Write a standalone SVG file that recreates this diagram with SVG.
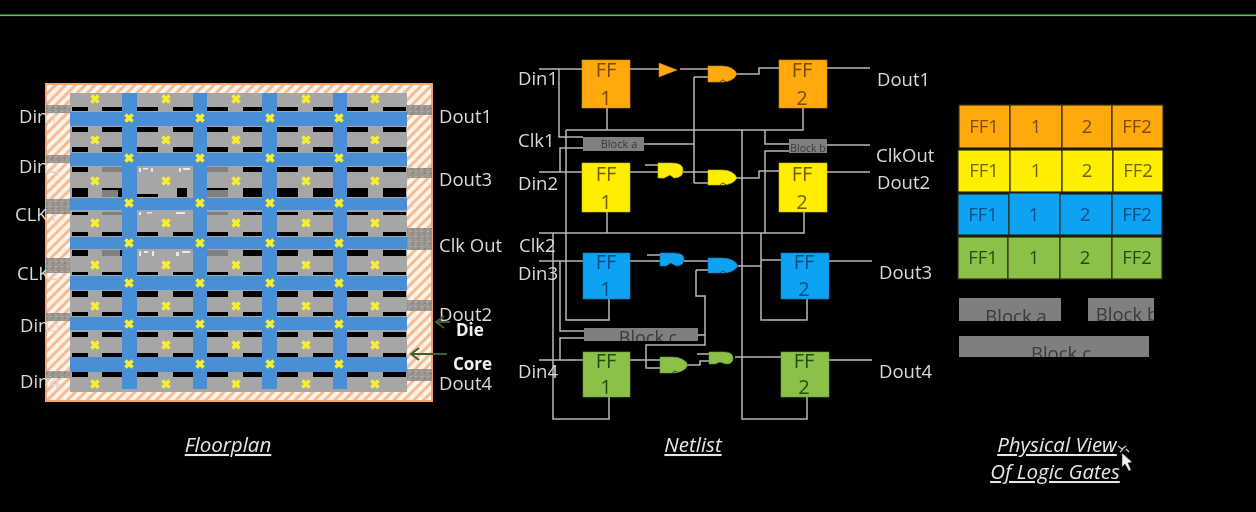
<svg xmlns="http://www.w3.org/2000/svg" xmlns:xlink="http://www.w3.org/1999/xlink" width="1256" height="512" viewBox="0 0 1256 512">
<style>
text{font-family:"Open Sans","Liberation Sans",sans-serif;}
.lb{font-size:18.5px;fill:#d9d9d9;}
.bd{font-size:17px;fill:#f2f2f2;font-weight:700;}
.cap{font-size:20.5px;fill:#e6e6e6;font-style:italic;text-decoration:underline;text-anchor:middle;}
.ff{font-size:20px;text-anchor:middle;}
.cl{font-size:18.5px;text-anchor:middle;}
.w{fill:none;stroke:#b8b8b8;stroke-width:1.5;}
.pad{fill:url(#speck);opacity:.88;}
.bar{fill:#000;}
.blue{fill:#4a8fd6;}
.x{stroke:#f7ee30;stroke-width:3.6;fill:none;}
.blk{fill:#7f7f7f;}
.bt{fill:#3a3a3a;text-anchor:middle;}
.o{fill:#ffa90a;stroke:#c98a10;stroke-width:.6;}.ot{fill:#7a4d00;}
.y{fill:#ffee00;stroke:#cbbd00;stroke-width:.6;}.yt{fill:#6f6200;}
.c{fill:#0aa2f2;stroke:#0a7fc0;stroke-width:.6;}.ct{fill:#044f86;}
.g{fill:#8cc04a;stroke:#6f9a3a;stroke-width:.6;}.gt{fill:#234d10;}
.cell{stroke:#2e2e1a;stroke-width:1.2;}
.gm{stroke:#333;stroke-width:.8;fill:none;}
.frag{fill:#e8e8e8;}.dg{fill:#808080;}
</style>
<defs>
<pattern id="hatch" width="7" height="7" patternUnits="userSpaceOnUse" patternTransform="rotate(45)">
<rect width="7" height="7" fill="#fff3ea"/><rect width="3" height="7" fill="#f6bd95"/>
</pattern>
<pattern id="speck" width="6" height="5" patternUnits="userSpaceOnUse">
<rect width="6" height="5" fill="#8e8b87"/><rect x="1" y="1" width="2" height="1" fill="#b3b0ab"/><rect x="4" y="3" width="1.5" height="1" fill="#6d6a67"/><rect x="0" y="3.5" width="1.5" height="1" fill="#a5a29d"/>
</pattern>
<filter id="soft" x="0" y="0" width="100%" height="100%"><feGaussianBlur stdDeviation="0.45"/></filter>
<marker id="ah" markerWidth="11" markerHeight="14" refX="9" refY="7" orient="auto" markerUnits="userSpaceOnUse"><path d="M1,1 L9,7 L1,13" fill="none" stroke="#3d5f33" stroke-width="2"/></marker>
<g id="barrow">
<rect class="bar" x="72" width="16" height="1"/><rect class="bar" x="102" width="20" height="1"/>
<rect class="bar" x="137" width="21" height="1"/><rect class="bar" x="173" width="20" height="1"/>
<rect class="bar" x="207" width="21" height="1"/><rect class="bar" x="243" width="19" height="1"/>
<rect class="bar" x="277" width="21" height="1"/><rect class="bar" x="313" width="20" height="1"/>
<rect class="bar" x="347" width="21" height="1"/><rect class="bar" x="383" width="23" height="1"/>
</g>
<path id="xm" class="x" d="M-3.5,-3.5L3.5,3.5M3.5,-3.5L-3.5,3.5"/>
<g id="xrow"><use xlink:href="#xm" x="95"/><use xlink:href="#xm" x="166"/><use xlink:href="#xm" x="236"/><use xlink:href="#xm" x="306"/><use xlink:href="#xm" x="375"/></g>
<g id="xcross"><use xlink:href="#xm" x="129"/><use xlink:href="#xm" x="200"/><use xlink:href="#xm" x="270"/><use xlink:href="#xm" x="339"/></g>
<clipPath id="cc"><rect x="584" y="328" width="114" height="13"/></clipPath>
<clipPath id="ca"><rect x="583" y="137" width="61" height="14"/></clipPath>
<clipPath id="cb"><rect x="789" y="139" width="38" height="14"/></clipPath>
<clipPath id="pa"><rect x="959" y="298" width="102" height="23"/></clipPath>
<clipPath id="pb"><rect x="1088" y="298" width="66" height="23"/></clipPath>
<clipPath id="pc"><rect x="959" y="336" width="190" height="21"/></clipPath>
</defs>
<rect width="1256" height="512" fill="#000"/>
<g filter="url(#soft)">
<rect id="top-line" x="0" y="14.5" width="1256" height="1.6" fill="#5cc45c"/>

<g id="floorplan">
<rect x="46" y="84" width="386" height="317" fill="url(#hatch)" stroke="#f4a66e" stroke-width="2"/>
<rect x="70" y="93" width="337" height="299" fill="#a6a6a6"/>
<g id="bars">
<use xlink:href="#barrow" transform="translate(0,107) scale(1,4)"/>
<use xlink:href="#barrow" transform="translate(0,127) scale(1,5)"/>
<use xlink:href="#barrow" transform="translate(0,147) scale(1,5)"/>
<use xlink:href="#barrow" transform="translate(0,167) scale(1,5)"/>
<use xlink:href="#barrow" transform="translate(0,188) scale(1,9)"/>
<use xlink:href="#barrow" transform="translate(0,212) scale(1,3)"/>
<use xlink:href="#barrow" transform="translate(0,232) scale(1,4)"/>
<use xlink:href="#barrow" transform="translate(0,250) scale(1,6)"/>
<use xlink:href="#barrow" transform="translate(0,272) scale(1,3)"/>
<use xlink:href="#barrow" transform="translate(0,291) scale(1,6)"/>
<use xlink:href="#barrow" transform="translate(0,312) scale(1,4)"/>
<use xlink:href="#barrow" transform="translate(0,332) scale(1,5)"/>
<use xlink:href="#barrow" transform="translate(0,353) scale(1,4)"/>
<use xlink:href="#barrow" transform="translate(0,372) scale(1,5)"/>
</g>
<g id="residue">
<rect class="dg" x="102" y="167" width="20" height="5"/><rect class="dg" x="207" y="167" width="21" height="5"/>
<rect x="137" y="167" width="21" height="5" fill="#a6a6a6"/><rect x="173" y="167" width="20" height="5" fill="#a6a6a6"/>
<rect class="frag" x="139" y="168" width="2" height="4"/><rect class="frag" x="143" y="168" width="5" height="1.5"/><rect class="frag" x="151" y="168" width="2" height="4"/><rect class="frag" x="179" y="168" width="2" height="4"/><rect class="frag" x="183" y="168" width="7" height="2"/>
<rect class="dg" x="102" y="190" width="16" height="7"/><rect class="dg" x="207" y="190" width="21" height="7"/>
<rect x="137" y="188" width="21" height="6" fill="#a6a6a6"/><rect x="173" y="188" width="4" height="9" fill="#a6a6a6"/><rect x="187" y="188" width="6" height="9" fill="#a6a6a6"/>
<rect class="dg" x="102" y="212" width="20" height="3"/><rect x="137" y="212" width="21" height="3" fill="#a6a6a6"/><rect x="173" y="212" width="20" height="3" fill="#a6a6a6"/><rect class="dg" x="207" y="212" width="21" height="3"/>
<rect class="frag" x="139" y="212" width="2" height="3"/><rect class="frag" x="147" y="212" width="5" height="1.5"/><rect class="frag" x="176" y="212" width="9" height="2"/>
<rect class="dg" x="102" y="250" width="18" height="6"/><rect class="dg" x="207" y="250" width="21" height="6"/>
<rect x="137" y="250" width="21" height="6" fill="#a6a6a6"/><rect x="173" y="250" width="20" height="6" fill="#a6a6a6"/>
<rect class="frag" x="139" y="251" width="2" height="5"/><rect class="frag" x="144" y="251" width="4" height="2"/><rect class="frag" x="152" y="251" width="2" height="5"/><rect class="frag" x="176" y="252" width="3" height="4"/><rect class="frag" x="182" y="251" width="8" height="2"/>
</g>
<g id="straps-h">
<rect class="blue" x="70" y="112" width="337" height="14"/>
<rect class="blue" x="70" y="153" width="337" height="13"/>
<rect class="blue" x="70" y="198" width="337" height="12"/>
<rect class="blue" x="70" y="237" width="337" height="12"/>
<rect class="blue" x="70" y="276" width="337" height="14"/>
<rect class="blue" x="70" y="317" width="337" height="13"/>
<rect class="blue" x="70" y="357" width="337" height="15"/>
</g>
<g id="straps-v">
<rect class="blue" x="122" y="93" width="15" height="296"/>
<rect class="blue" x="193" y="93" width="14" height="296"/>
<rect class="blue" x="262" y="93" width="15" height="296"/>
<rect class="blue" x="333" y="93" width="14" height="296"/>
</g>
<g id="cells">
<use xlink:href="#xrow" y="99"/><use xlink:href="#xrow" y="140"/><use xlink:href="#xrow" y="181"/><use xlink:href="#xrow" y="223"/>
<use xlink:href="#xrow" y="265"/><use xlink:href="#xrow" y="306"/><use xlink:href="#xrow" y="345"/><use xlink:href="#xrow" y="384"/>
<use xlink:href="#xcross" y="118"/><use xlink:href="#xcross" y="158"/><use xlink:href="#xcross" y="203"/><use xlink:href="#xcross" y="243"/>
<use xlink:href="#xcross" y="283"/><use xlink:href="#xcross" y="324"/><use xlink:href="#xcross" y="364"/>
</g>
<g id="fp-labels">
<text class="lb" x="19" y="123">Din1</text>
<text class="lb" x="19" y="173">Din2</text>
<text class="lb" x="15" y="221">CLK1</text>
<text class="lb" x="17" y="280">CLK2</text>
<text class="lb" x="20" y="332">Din3</text>
<text class="lb" x="20" y="388">Din4</text>
<text class="lb" x="439" y="123">Dout1</text>
<text class="lb" x="439" y="186">Dout3</text>
<text class="lb" x="439" y="252">Clk Out</text>
<text class="lb" x="439" y="321">Dout2</text>
<text class="lb" x="439" y="390">Dout4</text>
</g>
<g id="pads">
<rect class="pad" x="46" y="105" width="24" height="8"/>
<rect class="pad" x="46" y="155" width="24" height="8"/>
<rect class="pad" x="46" y="199" width="24" height="15"/>
<rect class="pad" x="46" y="258" width="24" height="15"/>
<rect class="pad" x="46" y="313" width="24" height="8"/>
<rect class="pad" x="46" y="371" width="24" height="7"/>
<rect class="pad" x="407" y="105" width="25" height="10"/>
<rect class="pad" x="407" y="168" width="25" height="10"/>
<rect class="pad" x="407" y="228" width="25" height="22"/>
<rect class="pad" x="407" y="300" width="25" height="11"/>
<rect class="pad" x="407" y="369" width="25" height="12"/>
</g>
<g id="die-label">
<text class="bd" x="456" y="336">Die</text>
<path d="M436,322H450" stroke="#3d5f33" stroke-width="2" fill="none" marker-end="url(#ah)" transform="rotate(180 443 322)"/>
</g>
<g id="core-label">
<text class="bd" x="453" y="370">Core</text>
<path d="M411,354H447" stroke="#3d5f33" stroke-width="2" fill="none" marker-end="url(#ah)" transform="rotate(180 429 354)"/>
</g>
</g>

<g id="connectors">
<path class="w" d="M539,69H582M559,69V137H583"/>
<path class="w" d="M566,130H803V108M607,108V130"/>
<path class="w" d="M566,130V320H609V299"/>
<path class="w" d="M539,172H582M560,172V148H583"/>
<path class="w" d="M644,144H694M694,77V183M694,77H708M694,183H708"/>
<path class="w" d="M742,130V419H807V397"/>
<path class="w" d="M539,233H804V212M607,212V233"/>
<path class="w" d="M553,233V419H609V397"/>
<path class="w" d="M539,261H583M560,261V331H584"/>
<path class="w" d="M539,360H583M560,360V338H584"/>
<path class="w" d="M698,335H705M696,270V296H705V345H646V368H660M696,270H708"/>
<path class="w" d="M630,69H659M680,69H708"/>
<path class="w" d="M737,74H759V68H779"/>
<path class="w" d="M630,172H658M645,165H658M683,172H708"/>
<path class="w" d="M737,178H759V171H779"/>
<path class="w" d="M630,261H660M647,255H660M684,261H708"/>
<path class="w" d="M738,266H761M761,233V320H807V299M761,260H781"/>
<path class="w" d="M765,130V144H789M765,233V151H789"/>
<path class="w" d="M827,145H870"/>
<path class="w" d="M630,360H660M688,365H700V361H709M697,354H709"/>
<path class="w" d="M735,357H781"/>
<path class="w" d="M827,68H870M827,172H870M829,261H872M829,360H872"/>
</g>

<g id="nl-labels">
<text class="lb" x="518" y="85">Din1</text>
<text class="lb" x="518" y="147">Clk1</text>
<text class="lb" x="518" y="190">Din2</text>
<text class="lb" x="519" y="252">Clk2</text>
<text class="lb" x="518" y="280">Din3</text>
<text class="lb" x="518" y="378">Din4</text>
<text class="lb" x="877" y="86">Dout1</text>
<text class="lb" x="876" y="162">ClkOut</text>
<text class="lb" x="877" y="189">Dout2</text>
<text class="lb" x="879" y="279">Dout3</text>
<text class="lb" x="879" y="378">Dout4</text>
</g>

<g id="ff1-orange"><rect class="o" x="582" y="60" width="48" height="48"/><text class="ff ot" x="606" y="77">FF</text><text class="ff ot" x="606" y="105">1</text></g>
<g id="ff1-yellow"><rect class="y" x="582" y="163" width="48" height="49"/><text class="ff yt" x="606" y="181">FF</text><text class="ff yt" x="606" y="209">1</text></g>
<g id="ff1-blue"><rect class="c" x="583" y="253" width="47" height="46"/><text class="ff ct" x="606" y="269">FF</text><text class="ff ct" x="606" y="296">1</text></g>
<g id="ff1-green"><rect class="g" x="583" y="352" width="47" height="45"/><text class="ff gt" x="606" y="368">FF</text><text class="ff gt" x="606" y="394">1</text></g>
<g id="ff2-orange"><rect class="o" x="779" y="60" width="48" height="48"/><text class="ff ot" x="802" y="77">FF</text><text class="ff ot" x="802" y="105">2</text></g>
<g id="ff2-yellow"><rect class="y" x="779" y="163" width="48" height="49"/><text class="ff yt" x="802" y="181">FF</text><text class="ff yt" x="802" y="209">2</text></g>
<g id="ff2-blue"><rect class="c" x="781" y="253" width="48" height="46"/><text class="ff ct" x="804" y="269">FF</text><text class="ff ct" x="804" y="296">2</text></g>
<g id="ff2-green"><rect class="g" x="781" y="352" width="48" height="45"/><text class="ff gt" x="804" y="368">FF</text><text class="ff gt" x="804" y="394">2</text></g>

<g id="gate-buf"><path class="o" d="M659,63L677,70L659,77Z"/></g>
<g id="gate-o2"><path class="o" d="M708,66H722Q733,66 737,74Q733,82 722,82H708Z"/><path class="gm" d="M720,82Q723,78 726,82"/></g>
<g id="gate-y1"><path class="y" d="M658,163H672Q683,163 683,170Q683,178 674,178L670,175L664,178H658Z"/></g>
<g id="gate-y2"><path class="y" d="M708,170H722Q733,170 737,178Q733,185 722,185H708Z"/><path class="gm" d="M720,185Q723,181 726,185"/></g>
<g id="gate-c1"><path class="c" d="M660,253H674Q684,253 684,259Q684,266 676,266L671,263L666,266H660Z"/></g>
<g id="gate-c2"><path class="c" d="M708,258H722Q734,258 738,266Q734,273 722,273H708Z"/><path class="gm" d="M720,273Q723,269 726,273"/></g>
<g id="gate-g1"><path class="g" d="M660,357H672Q684,357 688,365Q684,373 672,373H660Z"/><path class="gm" d="M672,373Q675,369 678,373"/></g>
<g id="gate-g2"><path class="g" d="M709,352H724Q733,352 733,358Q733,364 726,364L720,362L715,364H709Z"/></g>

<g id="block-a"><rect class="blk" x="583" y="137" width="61" height="14"/><text class="bt" x="619" y="148" font-size="11" clip-path="url(#ca)">Block a</text></g>
<g id="block-b"><rect class="blk" x="789" y="139" width="38" height="14"/><text class="bt" x="808" y="152" font-size="10.5" clip-path="url(#cb)">Block b</text></g>
<g id="block-c"><rect class="blk" x="584" y="328" width="114" height="13"/><text class="bt" x="648" y="344" font-size="18" clip-path="url(#cc)">Block c</text></g>

<g id="physical">
<g id="row-orange">
<rect class="o cell" x="959" y="105" width="51" height="43"/><rect class="o cell" x="1010" y="105" width="52" height="43"/><rect class="o cell" x="1062" y="105" width="50" height="43"/><rect class="o cell" x="1112" y="105" width="51" height="43"/>
<text class="cl ot" x="984" y="133">FF1</text><text class="cl ot" x="1036" y="133">1</text><text class="cl ot" x="1087" y="133">2</text><text class="cl ot" x="1137" y="133">FF2</text>
</g>
<g id="row-yellow">
<rect class="y cell" x="958" y="150" width="52" height="42"/><rect class="y cell" x="1010" y="150" width="52" height="42"/><rect class="y cell" x="1062" y="150" width="51" height="42"/><rect class="y cell" x="1113" y="150" width="50" height="42"/>
<text class="cl yt" x="984" y="177">FF1</text><text class="cl yt" x="1036" y="177">1</text><text class="cl yt" x="1087" y="177">2</text><text class="cl yt" x="1138" y="177">FF2</text>
</g>
<g id="row-blue">
<rect class="c cell" x="958" y="194" width="51" height="41"/><rect class="c cell" x="1009" y="193" width="51" height="42"/><rect class="c cell" x="1060" y="194" width="52" height="41"/><rect class="c cell" x="1112" y="194" width="50" height="41"/>
<text class="cl ct" x="983" y="221">FF1</text><text class="cl ct" x="1034" y="221">1</text><text class="cl ct" x="1085" y="221">2</text><text class="cl ct" x="1137" y="221">FF2</text>
</g>
<g id="row-green">
<rect class="g cell" x="958" y="237" width="50" height="42"/><rect class="g cell" x="1008" y="237" width="52" height="42"/><rect class="g cell" x="1060" y="237" width="52" height="42"/><rect class="g cell" x="1112" y="237" width="50" height="42"/>
<text class="cl gt" x="983" y="264">FF1</text><text class="cl gt" x="1034" y="264">1</text><text class="cl gt" x="1085" y="264">2</text><text class="cl gt" x="1137" y="264">FF2</text>
</g>
<g id="phys-block-a"><rect class="blk" x="959" y="298" width="102" height="23"/><text class="bt" x="1016" y="323" font-size="18.5" clip-path="url(#pa)">Block a</text></g>
<g id="phys-block-b"><rect class="blk" x="1088" y="298" width="66" height="23"/><text class="bt" x="1127" y="321" font-size="18.5" clip-path="url(#pb)">Block b</text></g>
<g id="phys-block-c"><rect class="blk" x="959" y="336" width="190" height="21"/><text class="bt" x="1061" y="360" font-size="18.5" clip-path="url(#pc)">Block c</text></g>
</g>

<g id="captions">
<text class="cap" x="228" y="452">Floorplan</text>
<text class="cap" x="693" y="452">Netlist</text>
<text class="cap" x="1057" y="452">Physical View</text>
<text class="cap" x="1055" y="479">Of Logic Gates</text>
</g>
<g id="cursor">
<path d="M1122,453L1122,467L1125,464L1129,471L1131,470L1128,463L1132,462Z" fill="#f2f2f2" stroke="#333" stroke-width=".5"/>
<path d="M1118,446l4,3l4,-3M1120,452l3,-3M1126,449l3,3" fill="none" stroke="#cfcfcf" stroke-width="1.2"/>
</g>
</g>
</svg>
